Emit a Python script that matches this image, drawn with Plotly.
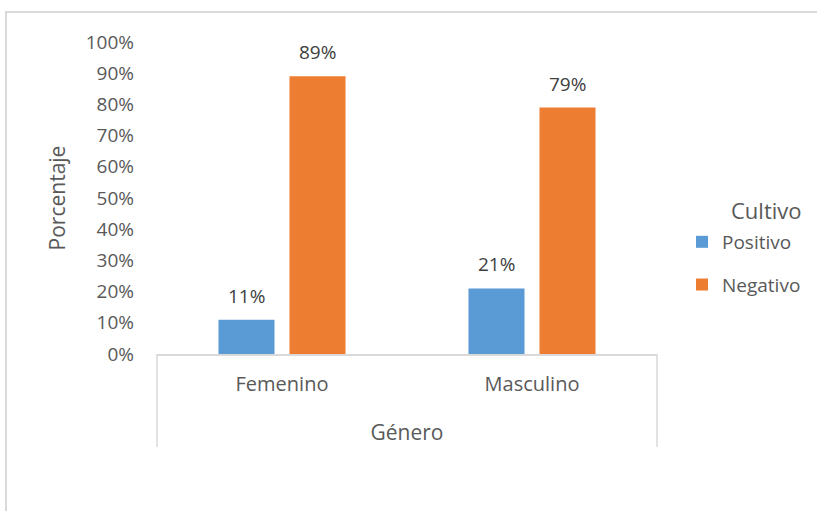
import plotly.graph_objects as go

# Resultado del cultivo por género (porcentaje)
generos = ["Femenino", "Masculino"]
positivo = [0.11, 0.21]
negativo = [0.89, 0.79]
series = [("Positivo", positivo, "#5B9BD5"), ("Negativo", negativo, "#ED7D31")]

FONT = "Open Sans"
GRAY = "#595959"
LINE = "#D9D9D9"

fig = go.Figure()
for i, (name, vals, color) in enumerate(series):
    fig.add_trace(go.Bar(
        x=generos, y=vals, name=name, marker_color=color,
        marker_line_width=0, legendgroup=name,
    ))

# Etiquetas de datos sobre cada barra
offsets = [-35.5, 35.5]
for (name, vals, color), dx in zip(series, offsets):
    for g, v in zip(generos, vals):
        fig.add_annotation(
            x=g, y=v, text=f"{round(v * 100)}%", showarrow=False,
            xshift=dx, yshift=24, yanchor="middle",
            font=dict(family=FONT, size=19, color="#404040"),
        )

# Título de la leyenda
fig.add_annotation(
    x=1.218, y=0.462, xref="paper", yref="paper", text="Cultivo",
    showarrow=False, xanchor="center", yanchor="middle",
    font=dict(family=FONT, size=22, color=GRAY),
)

shapes = [
    # borde del área del gráfico
    dict(type="rect", xref="paper", yref="paper", x0=-0.302, y0=1.096,
         x1=1.7, y1=-0.7, line=dict(color=LINE, width=2), layer="below"),
]
# divisiones verticales del eje de categorías
for xp in (0, 1):
    shapes.append(dict(type="line", xref="paper", yref="paper", x0=xp, x1=xp,
                       y0=0, y1=-0.298, line=dict(color=LINE, width=1.5)))

fig.update_layout(
    width=817, height=511,
    margin=dict(l=157, r=160, t=42, b=157, autoexpand=False),
    paper_bgcolor="white", plot_bgcolor="white",
    barmode="group", bargap=0.432, bargroupgap=0.211,
    font=dict(family=FONT, color=GRAY),
    showlegend=True,
    legend=dict(
        x=1.05, y=0.42, xanchor="left", yanchor="top",
        font=dict(family=FONT, size=19, color=GRAY),
        tracegroupgap=15, itemwidth=30, bgcolor="rgba(0,0,0,0)",
    ),
    shapes=shapes,
)

fig.update_xaxes(
    showline=True, linecolor=LINE, linewidth=1.5,
    tickfont=dict(family=FONT, size=20, color=GRAY),
    ticks="", ticklabelstandoff=11,
    title=dict(text="Género", font=dict(family=FONT, size=21, color=GRAY), standoff=30),
)
fig.update_yaxes(
    range=[0, 1], dtick=0.1, tickformat=".0%",
    showgrid=False, zeroline=False, showline=False,
    tickfont=dict(family=FONT, size=19, color=GRAY),
    ticklabelstandoff=22,
    title=dict(text="Porcentaje", font=dict(family=FONT, size=21, color=GRAY), standoff=14),
)

fig.write_html("out.html")
